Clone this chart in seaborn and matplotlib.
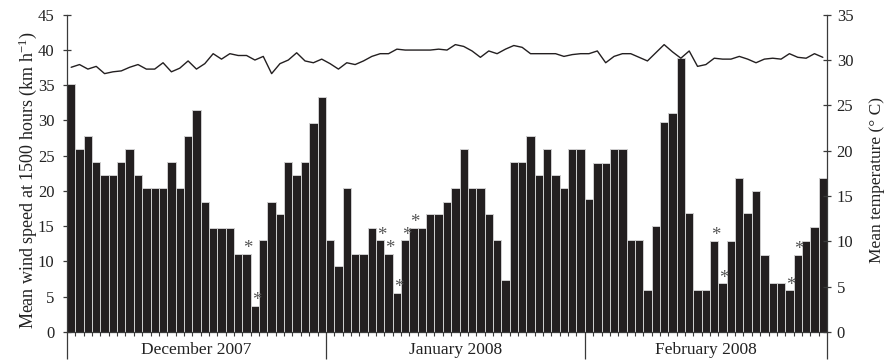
import numpy as np
import pandas as pd
import matplotlib
matplotlib.use("Agg")
import matplotlib.pyplot as plt
import seaborn as sns

# ---- data ----
months = ["December 2007", "January 2008", "February 2008"]

dec_wind = [35.2, 25.9, 27.8, 24.1, 22.2, 22.2, 24.1, 25.9, 22.2, 20.4, 20.4, 20.4, 24.1, 20.4, 27.8, 31.5,
            18.5, 14.8, 14.8, 14.8, 11.1, 11.1, 3.7, 13.0, 18.5, 16.7, 24.1, 22.2, 24.1, 29.6, 33.3]
jan_wind = [13.0, 9.3, 20.4, 11.1, 11.1, 14.8, 13.0, 11.1, 5.6, 13.0, 14.8, 14.8, 16.7, 16.7, 18.5, 20.4,
            25.9, 20.4, 20.4, 16.7, 13.0, 7.4, 24.1, 24.1, 27.8, 22.2, 25.9, 22.2, 20.4, 25.9, 25.9]
feb_wind = [18.9, 24.0, 24.0, 26.0, 26.0, 13.0, 13.0, 6.0, 15.0, 29.8, 31.0, 38.9, 16.9, 5.9, 5.9, 12.9,
            6.9, 12.9, 21.9, 16.9, 20.0, 10.9, 6.9, 6.9, 5.9, 10.9, 12.9, 14.9, 21.9]

dec_temp = [29.2, 29.5, 29.0, 29.3, 28.5, 28.7, 28.8, 29.2, 29.5, 29.0, 29.0, 29.7, 28.7, 29.1, 29.9, 29.0,
            29.6, 30.7, 30.1, 30.7, 30.5, 30.5, 30.0, 30.4, 28.5, 29.6, 30.0, 30.8, 29.9, 29.7, 30.1]
jan_temp = [29.6, 29.0, 29.7, 29.5, 29.9, 30.4, 30.7, 30.7, 31.2, 31.1, 31.1, 31.1, 31.1, 31.2, 31.1, 31.7,
            31.5, 31.0, 30.3, 31.0, 30.7, 31.2, 31.6, 31.4, 30.7, 30.7, 30.7, 30.7, 30.4, 30.6, 30.7]
feb_temp = [30.7, 31.0, 29.7, 30.4, 30.7, 30.7, 30.3, 29.9, 30.8, 31.7, 30.9, 30.2, 31.0, 29.3, 29.5, 30.2,
            30.1, 30.1, 30.4, 30.1, 29.7, 30.1, 30.2, 30.1, 30.7, 30.3, 30.2, 30.7, 30.3]

# days marked with an asterisk (day of month)
dec_marked = [22, 23]
jan_marked = [7, 8, 9, 10, 11]
feb_marked = [16, 17, 25, 26]

left_ticks = [0, 5, 10, 15, 20, 25, 30, 35, 40, 45]
right_ticks = [0, 5, 10, 15, 20, 25, 30, 35]

# ---- build table ----
wind = dec_wind + jan_wind + feb_wind
temp = dec_temp + jan_temp + feb_temp
lens = [len(dec_wind), len(jan_wind), len(feb_wind)]
df = pd.DataFrame({"day": np.arange(len(wind)), "wind": wind, "temp": temp})
offsets = np.concatenate([[0], np.cumsum(lens)])
marked = ([d - 1 + offsets[0] for d in dec_marked] +
          [d - 1 + offsets[1] for d in jan_marked] +
          [d - 1 + offsets[2] for d in feb_marked])

# ---- style ----
sns.set_style("ticks")
plt.rcParams["font.family"] = ["Liberation Serif", "DejaVu Serif"]
plt.rcParams["mathtext.fontset"] = "custom"
plt.rcParams["mathtext.rm"] = "Liberation Serif"
plt.rcParams["mathtext.it"] = "Liberation Serif:italic"
plt.rcParams["mathtext.bf"] = "Liberation Serif:bold"

ink = "#231f20"
axcol = "#3a3a3a"
txt = "#222222"

fig = plt.figure(figsize=(8.85, 3.62), dpi=100)
ax = fig.add_axes([67 / 885, 1 - 332 / 362, (827 - 67) / 885, (332 - 14.7) / 362])

sns.barplot(data=df, x="day", y="wind", color=ink, saturation=1, width=1.0,
            edgecolor="#cfcfcf", linewidth=0.7, ax=ax)
ax.set_ylim(0, 45)
ax.set_xlim(-0.5, len(wind) - 0.5)

ax2 = ax.twinx()
sns.lineplot(data=df, x="day", y="temp", color=ink, linewidth=1.0, ax=ax2)
ax2.set_ylim(0, 35)
ax2.set_xlim(-0.5, len(wind) - 0.5)

# asterisks
for i in marked:
    ax.annotate("*", xy=(i, wind[i]), xytext=(1, 0.5), textcoords="offset points",
                ha="center", va="baseline", fontsize=13.5, color="#555555")

# x ticks: month boundaries long, day boundaries short
bounds = offsets - 0.5
ax.set_xticks(bounds)
ax.set_xticklabels([])
ax.set_xticks(np.arange(-0.5, len(wind), 1.0), minor=True)
ax.tick_params(axis="x", which="major", direction="out", length=19.5, width=0.9, color=axcol)
ax.tick_params(axis="x", which="minor", direction="out", length=3, width=0.8, color=axcol)
ax.set_xlabel("")
ax2.set_xlabel("")

centers = (offsets[:-1] + offsets[1:]) / 2 - 0.5
for c, m in zip(centers, months):
    ax.text(c, -0.056, m, transform=ax.get_xaxis_transform(), ha="center", va="center",
            fontsize=12.5, color=txt)

# y ticks
ax.set_yticks(left_ticks)
ax2.set_yticks(right_ticks)
ax.tick_params(axis="y", direction="inout", length=6, width=0.9, color=axcol,
               labelsize=12, labelcolor=txt, pad=6)
ax2.tick_params(axis="y", direction="inout", length=6, width=0.9, color=axcol,
                labelsize=12, labelcolor=txt, pad=4)

ax.set_ylabel("Mean wind speed at 1500 hours (km h$^{-1}$)", fontsize=13, color=txt)
ax.yaxis.set_label_coords(-0.037, 0.48)
ax2.set_ylabel("Mean temperature (° C)", fontsize=12.5, color=txt, rotation=90)
ax2.yaxis.set_label_coords(1.055, 0.48)

for a in (ax, ax2):
    a.spines["top"].set_visible(False)
    for s in a.spines.values():
        s.set_color(axcol)
        s.set_linewidth(0.9)
ax.spines["right"].set_visible(False)
ax2.spines["left"].set_visible(False)
ax2.spines["bottom"].set_visible(False)

fig.savefig("out.png", dpi=100)
